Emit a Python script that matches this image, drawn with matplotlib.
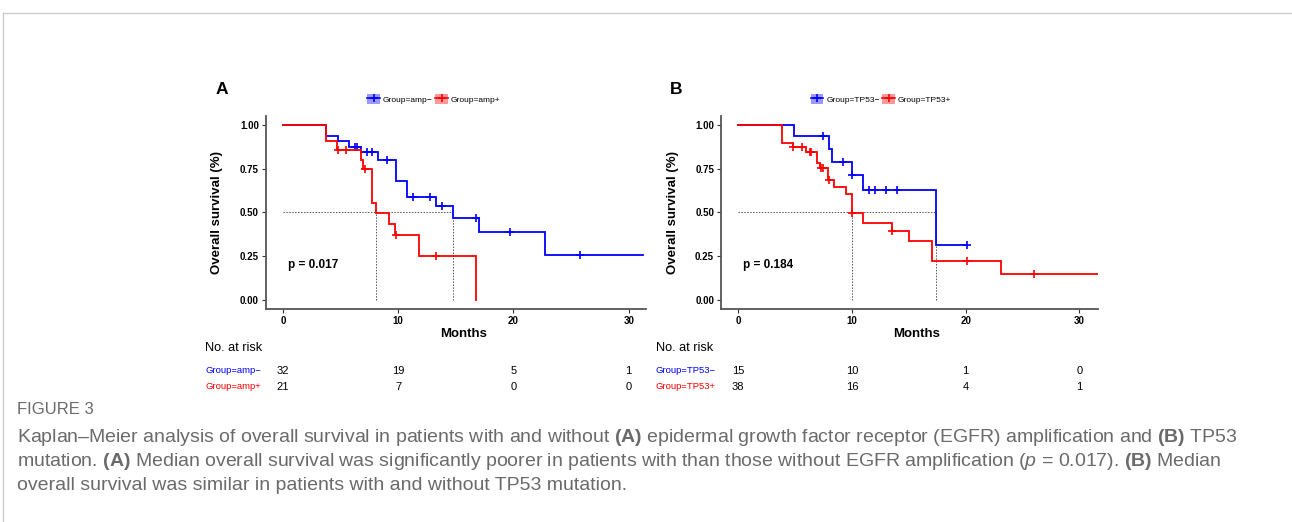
import matplotlib
matplotlib.use('Agg')
import matplotlib.pyplot as plt
import matplotlib.transforms as mtransforms
from matplotlib.lines import Line2D
from matplotlib.patches import Patch
import numpy as np

plt.rcParams['font.family'] = ['Liberation Sans', 'DejaVu Sans']
plt.rcParams['mathtext.fontset'] = 'custom'
plt.rcParams['mathtext.rm'] = 'Liberation Sans'
plt.rcParams['mathtext.bf'] = 'Liberation Sans:bold'
plt.rcParams['mathtext.it'] = 'Liberation Sans:italic'

# ---- Panel A: EGFR amplification ----
a_neg_t = [0, 3.75, 4.75, 5.77, 6.75, 8.28, 9.78, 10.75, 13.27, 14.77, 17.02, 22.74]
a_neg_s = [1.0, 0.938, 0.906, 0.875, 0.844, 0.80, 0.677, 0.588, 0.536, 0.465, 0.387, 0.258]
a_neg_end = 31.2
a_neg_cens = [6.27, 6.46, 7.27, 7.76, 9.06, 11.3, 12.8, 13.79, 16.74, 19.7, 25.74]

a_pos_t = [0, 3.75, 4.72, 6.75, 6.98, 7.76, 8.08, 9.23, 9.75, 11.77, 16.74]
a_pos_s = [1.0, 0.905, 0.857, 0.80, 0.748, 0.555, 0.495, 0.433, 0.371, 0.248, 0.0]
a_pos_end = 16.74
a_pos_cens = [4.8, 5.45, 7.1, 9.84, 13.27]

a_risk_neg = [32, 19, 5, 1]
a_risk_pos = [21, 7, 0, 0]

# ---- Panel B: TP53 mutation ----
b_neg_t = [0, 4.9, 7.98, 8.24, 9.97, 11.0, 17.36]
b_neg_s = [1.0, 0.933, 0.862, 0.79, 0.714, 0.625, 0.313]
b_neg_end = 20.09
b_neg_cens = [7.42, 9.24, 9.97, 11.5, 12.03, 13.0, 13.98, 20.09]

b_pos_t = [0, 3.9, 4.84, 5.93, 6.95, 7.19, 7.92, 8.42, 9.47, 9.97, 11.0, 13.55, 15.04, 17.06, 23.13]
b_pos_s = [1.0, 0.895, 0.871, 0.844, 0.78, 0.752, 0.684, 0.643, 0.602, 0.495, 0.44, 0.395, 0.336, 0.224, 0.15]
b_pos_end = 31.6
b_pos_cens = [4.84, 5.63, 6.31, 6.45, 7.27, 7.42, 8.0, 9.97, 13.55, 20.09, 26.03]

b_risk_neg = [15, 10, 1, 0]
b_risk_pos = [38, 16, 4, 1]

risk_times = [0, 10, 20, 30]
BLUE = '#0000FF'
RED = '#FF0000'
W, H = 1292, 522

fig = plt.figure(figsize=(W / 100, H / 100), dpi=100)


def km(ax, t, s, t_end, cens, color):
    ts = list(t) + [t_end]
    ss = list(s) + [s[-1]]
    ax.step(ts, ss, where='post', color=color, lw=1.3, solid_joinstyle='miter')
    cy = [s[np.searchsorted(t, c, side='right') - 1] for c in cens]
    ax.plot(cens, cy, '+', color=color, ms=6, mew=1.2)


def median(t, s):
    for ti, si in zip(t, s):
        if si <= 0.5:
            return ti
    return None


def panel(rect, label, curves, names, pval, risks, label_x, leg_x, risk_lab_x, xmax):
    ax = fig.add_axes(rect)
    meds = [median(c[0], c[1]) for c in curves]
    ax.plot([0, max(meds)], [0.5, 0.5], ls=(0, (1.5, 1.5)), color='#555555', lw=0.7)
    for m in meds:
        ax.plot([m, m], [0, 0.5], ls=(0, (1.5, 1.5)), color='#555555', lw=0.7)
    for c, col in zip(curves, [BLUE, RED]):
        km(ax, *c, col)
    ax.set_xlim(-1.5, xmax)
    ax.set_ylim(-0.05, 1.05)
    ax.set_xticks([0, 10, 20, 30])
    ax.set_yticks([0, 0.25, 0.5, 0.75, 1.0])
    ax.set_yticklabels(['0.00', '0.25', '0.50', '0.75', '1.00'])
    for sp in ['top', 'right']:
        ax.spines[sp].set_visible(False)
    for sp in ['left', 'bottom']:
        ax.spines[sp].set_color('#555555')
        ax.spines[sp].set_linewidth(1.3)
    ax.tick_params(length=3, width=0.8, color='#333333', pad=2, labelsize=7)
    for lab in ax.get_xticklabels() + ax.get_yticklabels():
        lab.set_fontweight('bold')
    ax.set_ylabel('Overall survival (%)', fontsize=9.5, fontweight='bold')
    ax.set_xlabel('Months', fontsize=9.5, fontweight='bold')
    ax.yaxis.set_label_coords(-0.112, 0.5)
    ax.xaxis.set_label_coords(0.52, -0.1)
    ax.text(0.4, 0.2, pval, fontsize=8.5, fontweight='bold', va='center')

    fig.text(label_x / W, 1 - 89 / H, label, fontsize=12.5, fontweight='bold', va='center')

    handles = []
    for col in [BLUE, RED]:
        handles.append((Patch(facecolor=col, alpha=0.4, edgecolor='none'),
                        Line2D([], [], color=col, marker='+', lw=1.2, ms=6, mew=1.2)))
    fig.legend(handles, names, loc='center', bbox_to_anchor=(leg_x / W, 1 - 99 / H),
               ncol=2, frameon=False, fontsize=6, handlelength=1.5, handleheight=1.5,
               handletextpad=0.4, columnspacing=0.3)

    tr = mtransforms.blended_transform_factory(ax.transData, fig.transFigure)
    fig.text(risk_lab_x / W, 1 - 348 / H, 'No. at risk', fontsize=9.2, va='center')
    for row, (vals, nm, col) in enumerate(zip(risks, names, [BLUE, RED])):
        y = 1 - (370.5 + 16 * row) / H
        fig.text(risk_lab_x / W, y, nm, fontsize=6.8, color=col, va='center')
        for tm, v in zip(risk_times, vals):
            ax.text(tm, y, str(v), transform=tr, fontsize=8, ha='center', va='center')
    return ax


panel([265.7 / W, 1 - 308.7 / H, 380.3 / W, 192.7 / H], 'A',
      [(a_neg_t, a_neg_s, a_neg_end, a_neg_cens), (a_pos_t, a_pos_s, a_pos_end, a_pos_cens)],
      ['Group=amp\u2212', 'Group=amp+'], 'p = 0.017', [a_risk_neg, a_risk_pos],
      216, 434, 205, 31.5)
panel([721 / W, 1 - 308.7 / H, 376.7 / W, 192.7 / H], 'B',
      [(b_neg_t, b_neg_s, b_neg_end, b_neg_cens), (b_pos_t, b_pos_s, b_pos_end, b_pos_cens)],
      ['Group=TP53\u2212', 'Group=TP53+'], 'p = 0.184', [b_risk_neg, b_risk_pos],
      670, 881, 655.5, 31.6)

# frame lines of the figure box
fig.add_artist(Line2D([3 / W, 1], [1 - 13 / H, 1 - 13 / H], color='#cccccc', lw=1))
fig.add_artist(Line2D([3 / W, 3 / W], [0, 1 - 13 / H], color='#cccccc', lw=1))

# caption
grey = '#6a6a6a'
fig.text(17 / W, 1 - 410 / H, 'FIGURE 3', fontsize=12, color=grey, va='center')
cap = [
    r'Kaplan–Meier analysis of overall survival in patients with and without $\mathbf{(A)}$ epidermal growth factor receptor (EGFR) amplification and $\mathbf{(B)}$ TP53',
    r'mutation. $\mathbf{(A)}$ Median overall survival was significantly poorer in patients with than those without EGFR amplification ($\mathit{p}$ = 0.017). $\mathbf{(B)}$ Median',
    r'overall survival was similar in patients with and without TP53 mutation.',
]
for i, line in enumerate(cap):
    fig.text(17 / W, 1 - (438 + 24 * i) / H, line, fontsize=14, color=grey, va='center')

fig.savefig('out.png', dpi=100)
